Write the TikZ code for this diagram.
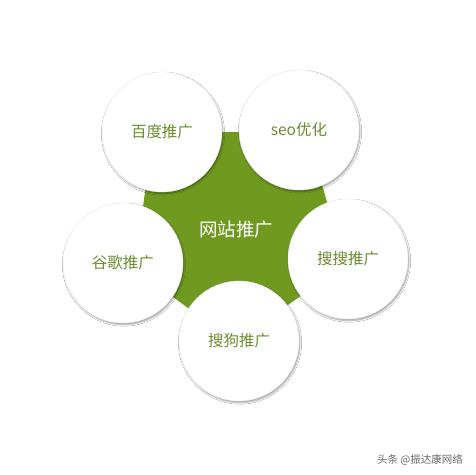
\documentclass[tikz,border=0pt]{standalone}
\usepackage{fontspec}
\newfontfamily\cjk{Noto Sans CJK SC}
\usetikzlibrary{shadows.blur}
\definecolor{stargreen}{HTML}{6F9A1F}
\definecolor{txtgreen}{HTML}{6C8C30}
\definecolor{wmgray}{HTML}{6A6A6A}
\tikzset{
  bub/.style={circle, minimum size=120pt, inner sep=0pt, fill=white, draw=black!8, line width=0.4pt,
    blur shadow={shadow xshift=1pt, shadow yshift=-1.6pt, shadow blur radius=1.6pt, shadow opacity=38},
    font=\cjk\fontsize{15.5}{15.5}\selectfont, text=txtgreen},
  centertxt/.style={font=\cjk\fontsize{18.5}{18.5}\selectfont, text=white, inner sep=0pt},
  wm/.style={font=\cjk\fontsize{10.5}{10.5}\selectfont, text=wmgray, inner sep=0pt}
}
\begin{document}
\begin{tikzpicture}[x=1pt,y=-1pt]
\useasboundingbox[fill=white] (0,0) rectangle (475,475);
% star
\fill[stargreen] (223,132) -- (240,132) -- (299,130) -- (323,188) -- (327,202) -- (348,259)
  -- (302,295) -- (288,305) -- (239,341) -- (188,308) -- (173,297) -- (123,263)
  -- (143,207) -- (145,192) -- (162,132) -- cycle;
\node[centertxt] (center) at (236,230) {网站推广};
% bubbles
\node[bub] (baidu) at (162,132) {\raisebox{-2pt}{百度推广}};
\node[bub] (seo) at (299,130) {\raisebox{-2pt}{seo优化}};
\node[bub] (soso) at (348,259) {搜搜推广};
\node[bub] (google) at (123,263) {\raisebox{-3pt}{谷歌推广}};
\node[bub] (sogou) at (239,341) {\raisebox{-5pt}{搜狗推广}};
% watermark
\node[wm, anchor=east] (wmark) at (463,460) {头条 @振达康网络};
\end{tikzpicture}
\end{document}
